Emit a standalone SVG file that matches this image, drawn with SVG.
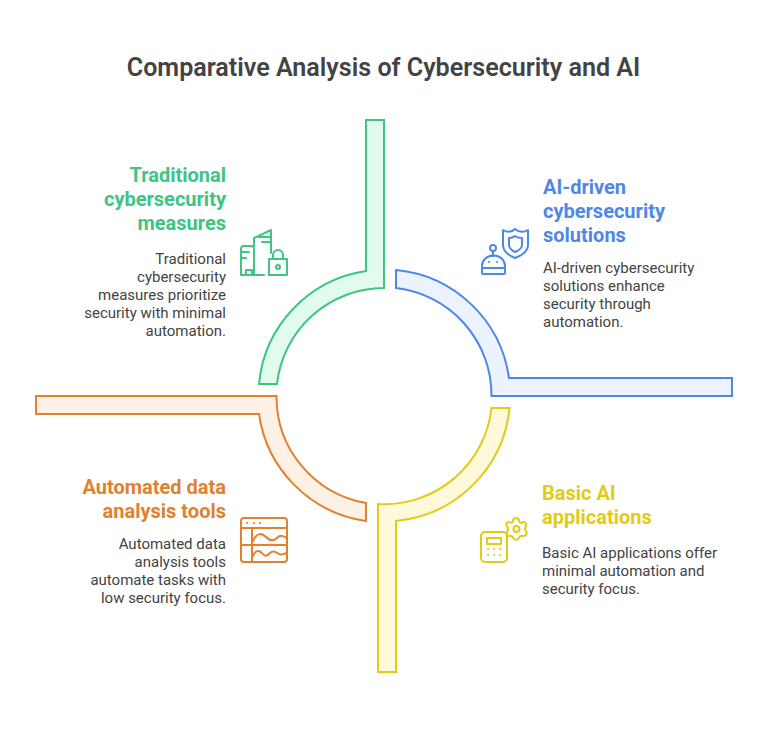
<svg xmlns="http://www.w3.org/2000/svg" width="768" height="732" viewBox="0 0 768 732">
<style>
text{font-family:Roboto,"Liberation Sans",sans-serif}
.title{font-size:25.100px;font-weight:600;fill:#434343;text-anchor:middle}
.h{font-size:20px;font-weight:700}
.b{font-size:15px;fill:#434343}
.e{text-anchor:end}
.band{stroke-width:2}
.ic{fill:none;stroke-width:2;stroke-linecap:round;stroke-linejoin:round}
.green{stroke:#3CC583}.blue{stroke:#4E88E7}.yellow{stroke:#E2CB15}.orange{stroke:#E0812F}
</style>
<rect width="768" height="732" fill="#fff"/>
<text class="title" x="383.500" y="76">Comparative Analysis of Cybersecurity and AI</text>
<g id="connectors">
<path class="band green" fill="#E2FBEF" d="M366 120H384V288A108 108 0 0 0 277 384H259A126 126 0 0 1 366 271Z"/>
<path class="band blue" fill="#EDF3FE" d="M396 270A126 126 0 0 1 509 378H732V396H491.500A108 108 0 0 0 396 288Z"/>
<path class="band yellow" fill="#FEF9DB" d="M491.500 408H509.500A126 126 0 0 1 396 521V672H378V504A108 108 0 0 0 491.500 408Z"/>
<path class="band orange" fill="#FDF0E5" d="M36 396H276.500A108 108 0 0 0 366 503V521A126 126 0 0 1 259 414H36Z"/>
</g>
<g id="node-traditional">
<text class="h e" fill="#3CC583" x="226" y="182">Traditional</text>
<text class="h e" fill="#3CC583" x="226" y="206">cybersecurity</text>
<text class="h e" fill="#3CC583" x="226" y="230">measures</text>
<text class="b e" x="226" y="263.500">Traditional</text>
<text class="b e" x="226" y="281.500">cybersecurity</text>
<text class="b e" x="226" y="299.500">measures prioritize</text>
<text class="b e" x="226" y="317.500">security with minimal</text>
<text class="b e" x="226" y="335.500">automation.</text>
<g class="ic green">
<path d="M241 275V249Q241 246 244 246H251Q254 246 254 249V275M241 275H264"/>
<path d="M241 252H249M241 258H246"/>
<path d="M246 275V270H252V275"/>
<path d="M254 246V238L271 230V253"/>
<path d="M259 237H271M262 242H271"/>
<rect x="269" y="259" width="18" height="16"/>
<path d="M273 259V255A5 5 0 0 1 283 255V259"/>
<circle cx="278" cy="267" r="2"/>
</g>
</g>
<g id="node-ai-driven">
<text class="h" fill="#4E88E7" x="543" y="194">AI-driven</text>
<text class="h" fill="#4E88E7" x="543" y="218">cybersecurity</text>
<text class="h" fill="#4E88E7" x="543" y="242">solutions</text>
<text class="b" x="543" y="272.500">AI-driven cybersecurity</text>
<text class="b" x="543" y="290.500">solutions enhance</text>
<text class="b" x="543" y="308.500">security through</text>
<text class="b" x="543" y="326.500">automation.</text>
<g class="ic blue">
<path d="M503 230Q510 234 515 229Q521 234 528 230V245Q528 253 515 258Q503 253 503 245Z"/>
<path d="M509 238Q513 238 515 236Q518 238 522 238V245Q522 249 515 252Q509 249 509 245Z"/>
<circle cx="493" cy="248" r="3"/>
<path d="M493 251V256"/>
<path d="M482 268V266A11 10 0 0 1 505 266V268"/>
<rect x="482" y="268" width="23" height="6" rx="1.500"/>
<path d="M489 262H489.100M497 262H497.100"/>
</g>
</g>
<g id="node-automated">
<text class="h e" fill="#E0812F" x="226" y="494">Automated data</text>
<text class="h e" fill="#E0812F" x="226" y="518">analysis tools</text>
<text class="b e" x="226" y="549">Automated data</text>
<text class="b e" x="226" y="567">analysis tools</text>
<text class="b e" x="226" y="585">automate tasks with</text>
<text class="b e" x="226" y="603">low security focus.</text>
<g class="ic orange">
<rect x="241" y="518" width="46" height="44" rx="3"/>
<path d="M241 528H287M241 545H287M252 528V562"/>
<path d="M247 523H247.100M254 523H254.100M260 523H260.100"/>
<path d="M253 541C257 532 262 533 266 537C270 541 274 541 277 538C280 535 284 535 287 539"/>
<path d="M253 556C255 550 259 550 262 553C265 557 267 556 270 553C273 550 276 552 279 554C282 556 284 553 287 553"/>
</g>
</g>
<g id="node-basic">
<text class="h" fill="#E2CB15" x="542" y="500">Basic AI</text>
<text class="h" fill="#E2CB15" x="542" y="524">applications</text>
<text class="b" x="542" y="558">Basic AI applications offer</text>
<text class="b" x="542" y="576">minimal automation and</text>
<text class="b" x="542" y="594">security focus.</text>
<g class="ic yellow">
<rect x="481" y="532" width="26" height="30" rx="4"/>
<rect x="487" y="538" width="14" height="6"/>
<path d="M488 549H488.100M494 549H494.100M500 549H500.100M488 555H488.100M494 555H494.100M500 555H500.100"/>
<path d="M516 518Q519 518 519 521Q520 524 523 522Q527 522 526 526Q524 529 526 531Q528 535 524 536Q520 535 519 538Q517 541 514 539Q512 535 509 536Q506 535 507 532Q509 529 507 526Q505 522 510 522Q513 524 513 520Q514 518 516 518Z"/>
<circle cx="516.500" cy="529" r="3"/>
</g>
</g>
</svg>
